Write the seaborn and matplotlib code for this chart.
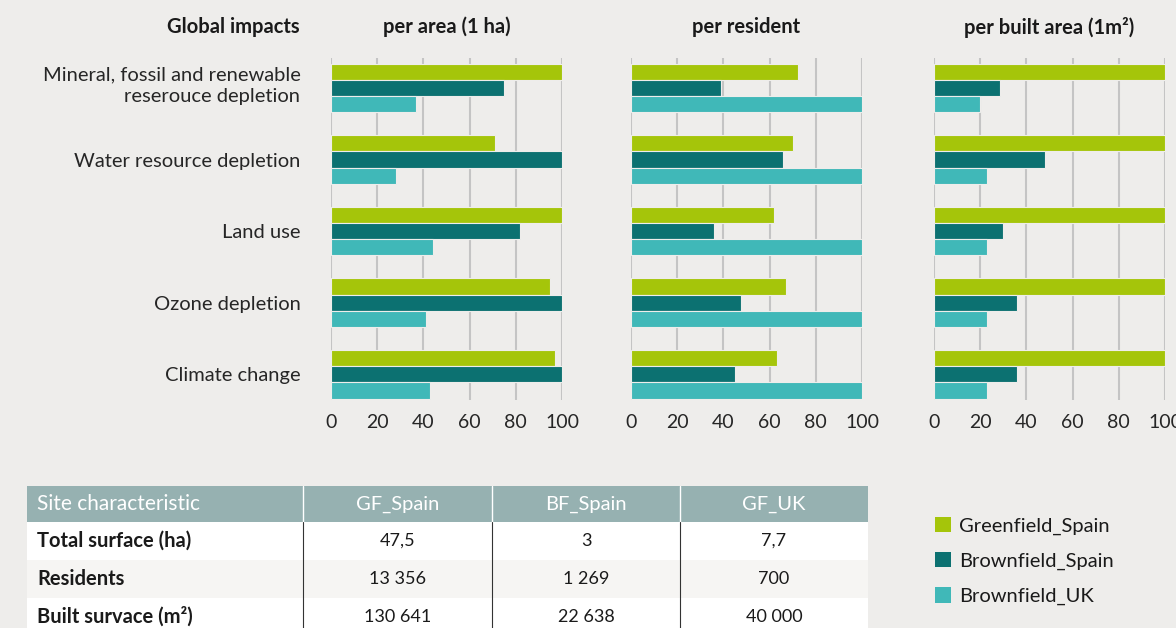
import pandas as pd
import matplotlib.pyplot as plt
import matplotlib.transforms as mtransforms
import seaborn as sns
from matplotlib.patches import Patch, Rectangle

# Data
impacts = [
    'Mineral, fossil and renewable\nreserouce depletion',
    'Water resource depletion',
    'Land use',
    'Ozone depletion',
    'Climate change',
]
sites = ['Greenfield_Spain', 'Brownfield_Spain', 'Brownfield_UK']

per_area_gf_spain = [100, 71, 100, 95, 97]
per_area_bf_spain = [75, 100, 82, 100, 100]
per_area_bf_uk = [37, 28, 44, 41, 43]

per_resident_gf_spain = [72.5, 70, 62, 67, 63]
per_resident_bf_spain = [39, 66, 36, 47.5, 45]
per_resident_bf_uk = [100, 100, 100, 100, 100]

per_built_gf_spain = [100, 100, 100, 100, 100]
per_built_bf_spain = [28.5, 48, 30, 36, 36]
per_built_bf_uk = [20, 23, 23, 23, 23]

panel_titles = ['per area (1 ha)', 'per resident', 'per built area (1m²)']
x_ticks = [0, 20, 40, 60, 80, 100]

table_header = ['Site characteristic', 'GF_Spain', 'BF_Spain', 'GF_UK']
table_rows = [
    ['Total surface (ha)', '47,5', '3', '7,7'],
    ['Residents', '13 356', '1 269', '700'],
    ['Built survace (m²)', '130 641', '22 638', '40 000'],
]

colors = ['#a5c50a', '#0c7171', '#40b8b8']
bg = '#eeedeb'


def make_frame(gf_spain, bf_spain, bf_uk):
    rows = []
    for series, vals in zip(sites, [gf_spain, bf_spain, bf_uk]):
        for imp, v in zip(impacts, vals):
            rows.append({'impact': imp, 'site': series, 'value': v})
    return pd.DataFrame(rows)


panels = [
    make_frame(per_area_gf_spain, per_area_bf_spain, per_area_bf_uk),
    make_frame(per_resident_gf_spain, per_resident_bf_spain, per_resident_bf_uk),
    make_frame(per_built_gf_spain, per_built_bf_spain, per_built_bf_uk),
]

sns.set_theme(style='white')
plt.rcParams['font.family'] = ['Lato', 'DejaVu Sans']
plt.rcParams['text.color'] = '#1a1a1a'

W, H = 1176, 628
fig = plt.figure(figsize=(W / 100, H / 100), dpi=100, facecolor=bg)

lefts = [331, 631, 934]
ax_w = 231
ax_top, ax_bottom = 58, 400

for i, (df, title, left) in enumerate(zip(panels, panel_titles, lefts)):
    ax = fig.add_axes([left / W, 1 - ax_bottom / H, ax_w / W, (ax_bottom - ax_top) / H])
    ax.set_facecolor(bg)
    sns.barplot(data=df, y='impact', x='value', hue='site', orient='h',
                palette=colors, saturation=1, width=0.68, ax=ax, legend=False,
                edgecolor=bg, linewidth=0.8)
    ax.set_xlim(0, 100)
    ax.set_ylim(4.36, -0.42)
    ax.set_xticks(x_ticks)
    ax.grid(axis='x', color='#c4c4c4', linewidth=1.5)
    ax.set_axisbelow(True)
    for s in ax.spines.values():
        s.set_visible(False)
    ax.set_xlabel('')
    ax.set_ylabel('')
    ax.tick_params(axis='x', length=0, pad=10, labelsize=14)
    ax.tick_params(axis='y', length=0, pad=22, labelsize=14.5)
    if i > 0:
        ax.set_yticklabels([])
    else:
        labels = ax.get_yticklabels()
        for lab in labels:
            lab.set_horizontalalignment('right')
            lab.set_linespacing(1.35)
        shift = mtransforms.ScaledTranslation(0, 6 / 100, fig.dpi_scale_trans)
        labels[0].set_transform(labels[0].get_transform() + shift)
    fig.text((left + ax_w / 2) / W, 1 - 27 / H, title, ha='center', va='center',
             fontsize=14.5, fontweight='bold')

fig.text(300 / W, 1 - 27 / H, 'Global impacts', ha='right', va='center',
         fontsize=14.5, fontweight='bold')

# Table
tab = fig.add_axes([27 / W, 0, (868 - 27) / W, (H - 486) / H])
tab.set_xlim(0, 841)
tab.set_ylim(142, 0)
tab.axis('off')
col_edges = [0, 276, 465, 653, 841]
row_edges = [0, 36, 74, 112, 150]
row_fill = ['#96b1b1', 'white', '#f6f5f3', 'white']
for r in range(4):
    tab.add_patch(Rectangle((0, row_edges[r]), 841, row_edges[r + 1] - row_edges[r],
                            facecolor=row_fill[r], edgecolor='none', clip_on=False))
for xe in col_edges[1:-1]:
    tab.plot([xe, xe], [0, 36], color='white', lw=1)
    tab.plot([xe, xe], [36, 150], color='#333333', lw=0.8, clip_on=False)
for c, txt in enumerate(table_header):
    yc = (row_edges[0] + row_edges[1]) / 2
    if c == 0:
        tab.text(10, yc, txt, ha='left', va='center', color='white', fontsize=15)
    else:
        tab.text((col_edges[c] + col_edges[c + 1]) / 2, yc, txt, ha='center',
                 va='center', color='white', fontsize=14.5)
for r, row in enumerate(table_rows):
    yc = (row_edges[r + 1] + row_edges[r + 2]) / 2
    for c, txt in enumerate(row):
        if c == 0:
            tab.text(10, yc, txt, ha='left', va='center', fontsize=14.5,
                     fontweight='bold')
        else:
            tab.text((col_edges[c] + col_edges[c + 1]) / 2, yc, txt, ha='center',
                     va='center', fontsize=13)

# Legend
handles = [Patch(facecolor=c, edgecolor='none', label=s) for c, s in zip(colors, sites)]
fig.legend(handles=handles, loc='center left', bbox_to_anchor=(917 / W, 1 - 561 / H),
           frameon=False, fontsize=14.5, handlelength=0.8, handleheight=0.8,
           handletextpad=0.4, labelspacing=0.85)

fig.savefig('out.png', dpi=100, facecolor=bg)
